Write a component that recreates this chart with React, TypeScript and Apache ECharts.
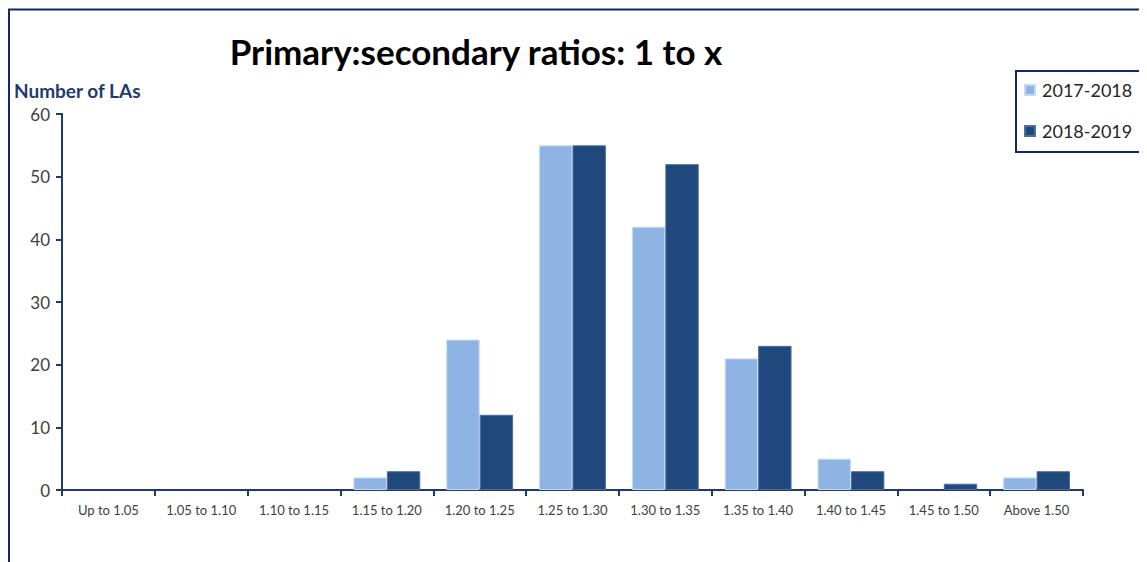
import React, { useEffect, useRef } from "react";
import * as echarts from "echarts";

const categories = [
  "Up to 1.05",
  "1.05 to 1.10",
  "1.10 to 1.15",
  "1.15 to 1.20",
  "1.20 to 1.25",
  "1.25 to 1.30",
  "1.30 to 1.35",
  "1.35 to 1.40",
  "1.40 to 1.45",
  "1.45 to 1.50",
  "Above 1.50",
];
const series2017 = [0, 0, 0, 2, 24, 55, 42, 21, 5, 0, 2];
const series2018 = [0, 0, 0, 3, 12, 55, 52, 23, 3, 1, 3];
const seriesNames = ["2017-2018", "2018-2019"];
const titleText = "Primary:secondary ratios: 1 to x";
const yAxisTitle = "Number of LAs";

const FONT = "Lato, 'Liberation Sans', sans-serif";
const NAVY = "#1F3A73";

const toData = (arr: number[]) =>
  arr.map((v) => (v === 0 ? { value: v, itemStyle: { borderWidth: 0 } } : v));

export default function App() {
  const ref = useRef<HTMLDivElement>(null);
  useEffect(() => {
    if (!ref.current) return;
    const chart = echarts.init(ref.current, undefined, { renderer: "svg" });
    chart.setOption({
      animation: false,
      grid: { left: 54, top: 106, right: 64, bottom: 72, containLabel: false },
      graphic: [
        {
          type: "rect",
          shape: { x: 1, y: 1.5, width: 1400, height: 800 },
          style: { fill: "none", stroke: "#0F2A6B", lineWidth: 2 },
          silent: true,
        },
        {
          type: "rect",
          shape: { x: 1008, y: 63, width: 127, height: 81 },
          style: { fill: "none", stroke: "#0F2A6B", lineWidth: 2 },
          silent: true,
        },
        {
          type: "text",
          x: 468,
          y: 43,
          style: {
            text: titleText,
            font: `bold 35px ${FONT}`,
            fill: "#000000",
            textAlign: "center",
            textVerticalAlign: "middle",
          },
        },
        {
          type: "text",
          x: 6,
          y: 82,
          style: {
            text: yAxisTitle,
            font: `bold 19px ${FONT}`,
            fill: NAVY,
            textAlign: "left",
            textVerticalAlign: "middle",
          },
        },
      ],
      legend: {
        orient: "vertical",
        left: 1016,
        top: 72,
        data: seriesNames,
        icon: "rect",
        itemWidth: 10,
        itemHeight: 10,
        itemGap: 21,
        padding: 0,
        borderWidth: 0,
        textStyle: { fontFamily: FONT, fontSize: 18, color: "#262626", lineHeight: 20, padding: [0, 0, 0, 2] },
      },
      xAxis: {
        type: "category",
        data: categories,
        axisLine: { lineStyle: { color: NAVY, width: 2 } },
        axisTick: { show: true, length: 6, alignWithLabel: false, lineStyle: { color: NAVY, width: 2 } },
        axisLabel: { fontFamily: FONT, fontSize: 13, color: "#404040", margin: 13, interval: 0 },
      },
      yAxis: {
        type: "value",
        min: 0,
        max: 60,
        interval: 10,
        splitLine: { show: false },
        axisLine: { show: true, lineStyle: { color: NAVY, width: 2 } },
        axisTick: { show: true, length: 6, lineStyle: { color: NAVY, width: 2 } },
        axisLabel: { fontFamily: FONT, fontSize: 17, color: "#404040", margin: 12 },
      },
      series: [
        {
          name: seriesNames[0],
          type: "bar",
          data: toData(series2017),
          barGap: "0%",
          barCategoryGap: "28%",
          itemStyle: { color: "#8EB4E3", borderColor: "#C6D9F1", borderWidth: 1 },
        },
        {
          name: seriesNames[1],
          type: "bar",
          data: toData(series2018),
          barGap: "0%",
          barCategoryGap: "28%",
          itemStyle: { color: "#1F497D", borderColor: "#4F6F9A", borderWidth: 1 },
        },
      ],
    });
    return () => chart.dispose();
  }, []);
  return <div ref={ref} style={{ width: 1139, height: 554 }} />;
}
